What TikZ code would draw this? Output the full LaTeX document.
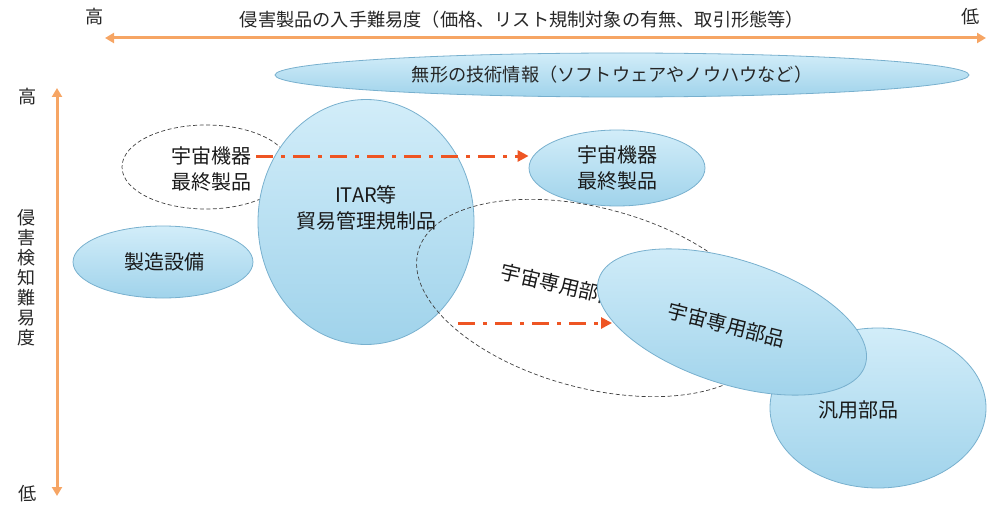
\documentclass[tikz,border=0pt]{standalone}
\usepackage{fontspec}
\setmainfont{Noto Sans CJK JP}
\usetikzlibrary{shapes.geometric,arrows.meta}
\definecolor{bluetop}{RGB}{210,237,249}
\definecolor{bluebot}{RGB}{160,211,235}
\definecolor{blueedge}{RGB}{120,176,206}
\definecolor{axisor}{RGB}{246,165,100}
\definecolor{redarr}{RGB}{238,85,35}
\begin{document}
\begin{tikzpicture}[x=1pt,y=-1pt,
 blob/.style={ellipse, draw=blueedge, line width=0.8pt, top color=bluetop, bottom color=bluebot, inner sep=0pt},
 dashell/.style={ellipse, draw=black!75, dash pattern=on 4pt off 2.5pt, line width=0.7pt, inner sep=0pt},
 lbl/.style={font=\fontsize{20}{26}\selectfont, align=center, text=black!90},
 axislbl/.style={font=\fontsize{18.2}{20}\selectfont, text=black!85},
 vlbl/.style={font=\fontsize{18}{20}\selectfont, align=center, text=black!85},
 axisarrow/.style={draw=axisor, line width=3pt, {Triangle[length=9pt,width=10pt]}-{Triangle[length=9pt,width=10pt]}},
 dashdot/.style={draw=redarr, line width=3pt, dash pattern=on 17pt off 8pt on 4pt off 8pt, -{Triangle[length=11pt,width=11pt]}}
]
\useasboundingbox (0,0) rectangle (987,508);
% axes
\node[axislbl] (hhigh) at (95,17) {高};
\node[axislbl] (hlow) at (971,17) {低};
\node[axislbl] (htitle) at (522,20) {侵害製品の入手難易度（価格、リスト規制対象の有無、取引形態等）};
\coordinate (hx1) at (105,38);
\coordinate (hx2) at (986,38);
\draw[axisarrow] (hx1) -- (hx2);
\node[axislbl] (vhigh) at (28,97) {高};
\node[axislbl] (vlow) at (28,494) {低};
\node[vlbl] (vtitle) at (26,278) {侵\\害\\検\\知\\難\\易\\度};
\coordinate (vy1) at (57,88);
\coordinate (vy2) at (57,496);
\draw[axisarrow] (vy1) -- (vy2);
% intangible info
\node[blob, minimum width=694pt, minimum height=44pt] (info) at (622,75) {};
\node[axislbl] (infot) at (612,75) {無形の技術情報（ソフトウェアやノウハウなど）};
% left final product (dashed)
\node[dashell, minimum width=168pt, minimum height=84pt] (lfinalE) at (206,167) {};
\node[lbl] (lfinal) at (211,169) {宇宙機器\\最終製品};
% manufacturing equipment
\node[blob, minimum width=180pt, minimum height=72pt] (equip) at (163,262) {};
\node[lbl] (equipt) at (164,262) {製造設備};
% ITAR
\node[blob, minimum width=216pt, minimum height=245pt] (itar) at (366,222) {};
\node[lbl] (itart) at (366,208) {ITAR等\\貿易管理規制品};
% right final product
\node[blob, minimum width=176pt, minimum height=76pt] (rfinal) at (617,168) {};
\node[lbl] (rfinalt) at (617,168) {宇宙機器\\最終製品};
\coordinate (a1) at (256,156);
\draw[dashdot] (a1) -- (a1 -| rfinal.west);
% dashed space parts
\node[dashell, minimum width=360pt, minimum height=180pt, rotate=-15] (spaceE) at (592,298) {};
\node[lbl, rotate=-13] (spaceEt) at (560,285) {宇宙専用部品};
% general parts
\node[blob, minimum width=216pt, minimum height=160pt] (gen) at (878,408) {};
\node[lbl] (gent) at (858,410) {汎用部品};
% space parts
\node[blob, minimum width=280pt, minimum height=124pt, rotate=-18] (spacep) at (732,322) {};
\node[lbl, rotate=-14] (spacept) at (727,325) {宇宙専用部品};
\coordinate (b1) at (458,323);
\coordinate (b2) at (612,323);
\draw[dashdot] (b1) -- (b2);
\end{tikzpicture}
\end{document}
